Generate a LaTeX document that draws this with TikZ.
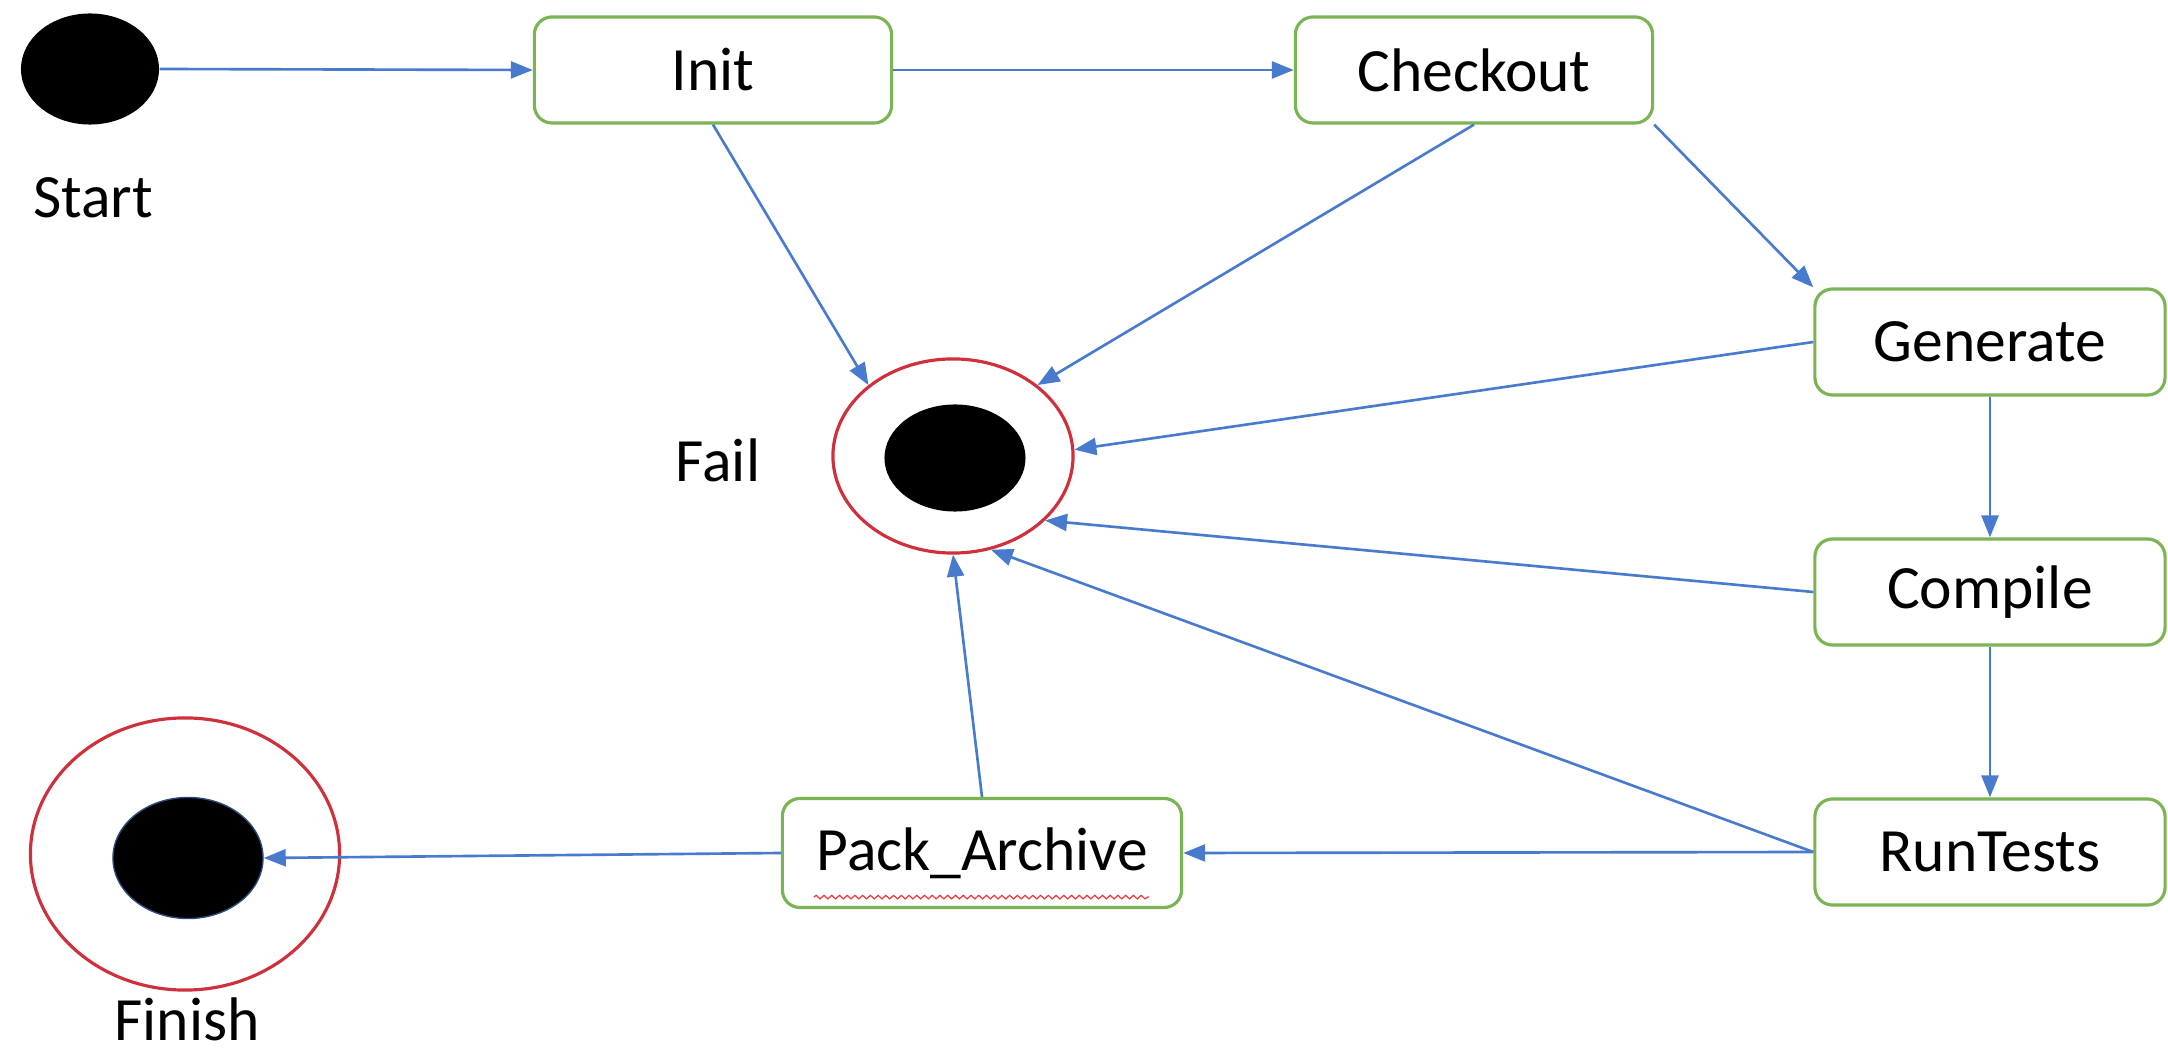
\documentclass[tikz,border=0pt]{standalone}
\usepackage{fontspec}
\setmainfont{Carlito}
\usepackage{xcolor}
\usepackage{tikz}
\usetikzlibrary{arrows.meta,shapes.geometric,decorations.pathmorphing}
\definecolor{stateGreen}{RGB}{122,180,84}
\definecolor{flowBlue}{RGB}{72,122,206}
\definecolor{endRed}{RGB}{206,48,60}
\definecolor{spellRed}{RGB}{230,60,60}

\begin{document}
\begin{tikzpicture}[x=0.01cm,y=-0.01cm,
  font=\fontsize{17.5}{21}\selectfont,
  statebox/.style={draw=stateGreen, line width=0.9pt, rounded corners=5pt, fill=white,
    minimum width=3.57cm, minimum height=1.06cm, inner sep=0pt},
  dot/.style={ellipse, fill=black, inner sep=0pt},
  ring/.style={ellipse, draw=endRed, line width=0.9pt, inner sep=0pt},
  lbl/.style={inner sep=0pt},
  flow/.style={flowBlue, line width=0.75pt, -{Triangle[length=0.22cm,width=0.17cm]}}]
\useasboundingbox (0,0) rectangle (2168,1052);

% states
\node[dot, minimum width=1.38cm, minimum height=1.11cm] (start) at (90,69) {};
\node[lbl] (startlbl) at (93,198) {Start};
\node[statebox] (init) at (713,70) {Init};
\node[statebox] (checkout) at (1474,70) {Checkout};
\node[statebox, minimum width=3.5cm] (generate) at (1990,342) {Generate};
\node[statebox, minimum width=3.5cm] (compile) at (1990,592) {Compile};
\node[statebox, minimum width=3.5cm] (runtests) at (1990,852) {RunTests};
\node[statebox, minimum width=3.99cm, minimum height=1.09cm] (pack) at (982,853) {Pack\_Archive};

% end states
\node[ring, minimum width=2.40cm, minimum height=1.94cm] (fail) at (953,456) {};
\node[dot, minimum width=1.41cm, minimum height=1.07cm] (faildot) at (955,458) {};
\node[lbl] (faillbl) at (718,460) {Fail};
\node[ring, minimum width=3.09cm, minimum height=2.72cm] (finish) at (185,854) {};
\node[dot, draw=flowBlue!60!black, line width=0.4pt, minimum width=1.50cm, minimum height=1.21cm] (finishdot) at (188,858) {};
\node[lbl] (finishlbl) at (187,1019) {Finish};

% spell-check underline
\draw[spellRed, line width=0.35pt, decorate, decoration={snake, amplitude=0.5pt, segment length=2.2pt}]
  ([xshift=0.33cm,yshift=0.12cm]pack.south west) -- ([xshift=-0.34cm,yshift=0.12cm]pack.south east);

% transitions
\draw[flow] (start.east) -- (init.west);
\draw[flow] (init.east) -- (checkout.west);
\draw[flow] (checkout.south east) -- (generate.north west);
\draw[flow] (generate.south) -- (compile.north);
\draw[flow] (compile.south) -- (runtests.north);
\draw[flow] (runtests.west) -- (pack.east);
\draw[flow] (pack.west) -- (finishdot.east);

% failures
\draw[flow] (init.south) -- (fail.140);
\draw[flow] (checkout.south) -- (fail.40);
\draw[flow] (generate.west) -- (fail.3);
\draw[flow] (compile.west) -- (fail.-35);
\draw[flow] (runtests.west) -- (fail.-68);
\draw[flow] (pack.north) -- (fail.-90);
\end{tikzpicture}
\end{document}
